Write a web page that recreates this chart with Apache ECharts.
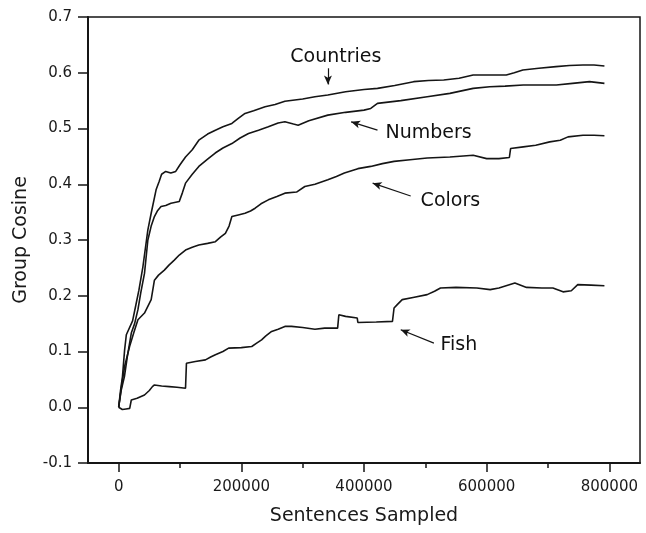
<!DOCTYPE html>
<html>
<head>
<meta charset="utf-8">
<script src="https://cdn.jsdelivr.net/npm/echarts@6/dist/echarts.min.js"></script>
<style>html,body{margin:0;padding:0;background:#fff}#c{width:646px;height:533px}</style>
</head>
<body>
<div id="c"></div>
<script>
// ---- data ----
const countriesX = [0, 3000, 6200, 9700, 11600, 12500, 15200, 22700, 28700, 33000, 39500, 47600, 53000, 61000, 66000, 70000, 76700, 85000, 93000, 100000, 109000, 120000, 130700, 145000, 157700, 170000, 184600, 195000, 206000, 220000, 238700, 255000, 271000, 300000, 320000, 341000, 370000, 400000, 422000, 450000, 481000, 505000, 530000, 555000, 578000, 605000, 632000, 645000, 659000, 685000, 713000, 735000, 757000, 775000, 792000];
const countriesY = [0, 0.03, 0.055, 0.103, 0.10, 0.13, 0.133, 0.155, 0.187, 0.21, 0.252, 0.318, 0.348, 0.39, 0.405, 0.418, 0.423, 0.42, 0.423, 0.435, 0.449, 0.462, 0.479, 0.49, 0.497, 0.503, 0.509, 0.518, 0.527, 0.532, 0.539, 0.543, 0.549, 0.553, 0.557, 0.560, 0.566, 0.570, 0.572, 0.577, 0.584, 0.586, 0.587, 0.590, 0.596, 0.596, 0.596, 0.600, 0.605, 0.608, 0.611, 0.613, 0.614, 0.614, 0.612];

const numbersX = [0, 4000, 9400, 14000, 20600, 26000, 31400, 36000, 42100, 47600, 53000, 58300, 63000, 69100, 76700, 85300, 98800, 104000, 109000, 120000, 130700, 145000, 157400, 170000, 184600, 198000, 211700, 228000, 244000, 260000, 271000, 285000, 292600, 310000, 341000, 370000, 400000, 411000, 422000, 460000, 503000, 540000, 578000, 605000, 630000, 659600, 690000, 713600, 740000, 767700, 792000];
const numbersY = [0, 0.03, 0.055, 0.09, 0.133, 0.15, 0.175, 0.205, 0.24, 0.30, 0.325, 0.342, 0.352, 0.36, 0.362, 0.366, 0.369, 0.385, 0.402, 0.418, 0.432, 0.445, 0.456, 0.465, 0.473, 0.483, 0.491, 0.497, 0.503, 0.510, 0.512, 0.508, 0.506, 0.514, 0.524, 0.529, 0.533, 0.536, 0.545, 0.550, 0.557, 0.563, 0.572, 0.575, 0.576, 0.578, 0.578, 0.578, 0.581, 0.584, 0.581];

const colorsX = [0, 5000, 10000, 17800, 25000, 31400, 42100, 53000, 58300, 65000, 74500, 82000, 90700, 98800, 109000, 120000, 130700, 145000, 157700, 166000, 174000, 180000, 184600, 195000, 206000, 215000, 222500, 232000, 244000, 258000, 271000, 290000, 303500, 320000, 341000, 355000, 368000, 390000, 411000, 430000, 449000, 475000, 503000, 540000, 578000, 600000, 620000, 637000, 639000, 659600, 680000, 702800, 720000, 732600, 757000, 775000, 792000];
const colorsY = [0, 0.04, 0.075, 0.109, 0.135, 0.157, 0.169, 0.193, 0.228, 0.237, 0.246, 0.255, 0.264, 0.273, 0.282, 0.287, 0.291, 0.294, 0.297, 0.305, 0.312, 0.325, 0.342, 0.345, 0.348, 0.352, 0.357, 0.365, 0.372, 0.378, 0.384, 0.386, 0.396, 0.40, 0.408, 0.414, 0.42, 0.428, 0.432, 0.437, 0.441, 0.444, 0.447, 0.449, 0.452, 0.446, 0.446, 0.448, 0.464, 0.467, 0.470, 0.476, 0.479, 0.485, 0.488, 0.488, 0.487];

const fishX = [0, 3000, 6000, 12000, 18000, 20600, 30000, 42100, 50000, 55000, 58300, 70000, 82600, 95000, 109000, 110500, 125000, 141500, 150000, 157700, 170000, 179300, 200000, 217000, 225000, 233000, 240000, 249400, 260000, 271000, 281800, 300000, 320000, 335800, 357000, 359000, 370000, 389000, 390000, 420000, 446400, 449000, 455000, 462300, 480000, 503000, 515000, 524700, 550000, 584000, 605700, 620000, 646000, 665000, 690000, 708000, 724500, 738000, 748500, 770000, 792000];
const fishY = [0, -0.003, -0.004, -0.003, -0.002, 0.013, 0.016, 0.022, 0.03, 0.037, 0.04, 0.038, 0.037, 0.036, 0.034, 0.079, 0.082, 0.085, 0.09, 0.094, 0.10, 0.106, 0.107, 0.109, 0.115, 0.121, 0.128, 0.136, 0.14, 0.145, 0.145, 0.143, 0.14, 0.142, 0.142, 0.166, 0.163, 0.160, 0.152, 0.153, 0.154, 0.178, 0.185, 0.193, 0.197, 0.202, 0.208, 0.214, 0.215, 0.214, 0.211, 0.214, 0.223, 0.215, 0.214, 0.214, 0.207, 0.209, 0.22, 0.219, 0.218];

const xMajorTicks = [0, 200000, 400000, 600000, 800000];
const xMinorTicks = [100000, 300000, 500000, 700000];

// annotations: label text, label anchor (data coords), arrow start and end (data coords)
const annLabels = ['Countries', 'Numbers', 'Colors', 'Fish'];
const annAnchorX = [354200, 435000, 492300, 524700];
const annAnchorY = [0.629, 0.492, 0.369, 0.112];
const annAlign = ['center', 'left', 'left', 'left'];
const arrowFromX = [341200, 422000, 476100, 514000];
const arrowFromY = [0.608, 0.497, 0.379, 0.115];
const arrowToX = [341200, 379000, 414100, 459900];
const arrowToY = [0.579, 0.512, 0.402, 0.139];

// ---- chart ----
const FONT = 'DejaVu Sans';
const INK = '#151515';
const pairs = (xs, ys) => xs.map((x, i) => [x, ys[i]]);
const lineSeries = (name, xs, ys) => ({
  name, type: 'line', data: pairs(xs, ys), showSymbol: false, symbol: 'none',
  lineStyle: { color: INK, width: 1.6 }, animation: false, silent: true
});

const chart = echarts.init(document.getElementById('c'), null, { renderer: 'canvas' });
chart.setOption({
  backgroundColor: '#fff',
  animation: false,
  grid: { left: 88, right: 6, top: 17, bottom: 70, show: true, borderColor: INK, borderWidth: 1.5, backgroundColor: 'transparent' },
  xAxis: [{
    type: 'value', min: -50000, max: 850000,
    axisLine: { show: true, onZero: false, lineStyle: { color: INK, width: 2 } },
    axisTick: { show: true, inside: false, length: 9, customValues: xMajorTicks, lineStyle: { color: INK, width: 1.5 } },
    axisLabel: { show: true, customValues: xMajorTicks, margin: 17, fontFamily: FONT, fontSize: 15, color: '#1a1a1a', formatter: v => String(v) },
    splitLine: { show: false },
    name: 'Sentences Sampled', nameLocation: 'middle', nameGap: 44,
    nameTextStyle: { fontFamily: FONT, fontSize: 19, color: '#1a1a1a' }
  }, {
    type: 'value', min: -50000, max: 850000, position: 'bottom',
    axisLine: { show: false, onZero: false },
    axisTick: { show: true, inside: false, length: 5, customValues: xMinorTicks, lineStyle: { color: INK, width: 1.5 } },
    axisLabel: { show: false }, splitLine: { show: false }
  }],
  yAxis: {
    type: 'value', min: -0.1, max: 0.7, interval: 0.1,
    axisLine: { show: true, onZero: false, lineStyle: { color: INK, width: 2 } },
    axisTick: { show: true, inside: false, length: 10, lineStyle: { color: INK, width: 1.5 } },
    axisLabel: { margin: 16, fontFamily: FONT, fontSize: 15, color: '#1a1a1a', formatter: v => v.toFixed(1) },
    splitLine: { show: false },
    name: 'Group Cosine', nameLocation: 'middle', nameGap: 57,
    nameTextStyle: { fontFamily: FONT, fontSize: 19, color: '#1a1a1a' }
  },
  series: [
    lineSeries('Countries', countriesX, countriesY),
    lineSeries('Numbers', numbersX, numbersY),
    lineSeries('Colors', colorsX, colorsY),
    lineSeries('Fish', fishX, fishY),
    {
      name: 'annotations', type: 'scatter', symbolSize: 0, silent: true, animation: false,
      itemStyle: { color: '#000', opacity: 0 },
      data: annLabels.map((t, i) => ({
        name: t, value: [annAnchorX[i], annAnchorY[i]],
        label: {
          show: true, formatter: t,
          position: annAlign[i] === 'center' ? 'inside' : 'right', distance: 0,
          fontFamily: FONT, fontSize: 19, color: '#111', opacity: 1,
          textBorderWidth: 0
        }
      })),
      markLine: {
        silent: true, animation: false, symbol: ['none', 'arrow'], symbolSize: [6, 9],
        lineStyle: { color: INK, width: 1.2, type: 'solid', opacity: 1 },
        itemStyle: { color: INK, opacity: 1 },
        label: { show: false },
        data: annLabels.map((t, i) => [
          { coord: [arrowFromX[i], arrowFromY[i]] },
          { coord: [arrowToX[i], arrowToY[i]] }
        ])
      }
    }
  ]
});
</script>
</body>
</html>
